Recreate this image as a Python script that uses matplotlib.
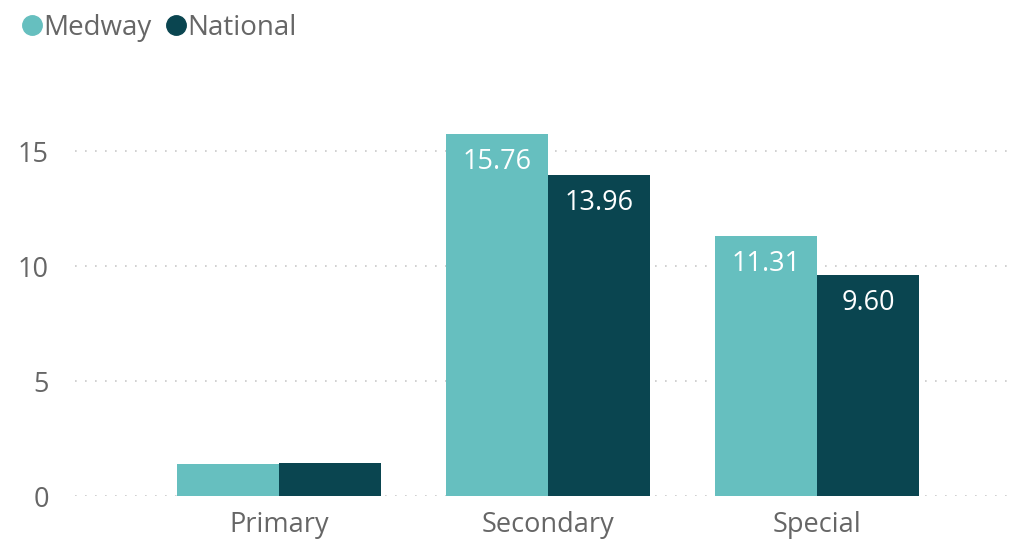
import matplotlib
matplotlib.use('Agg')
from matplotlib import pyplot as plt
from matplotlib.lines import Line2D
import numpy as np

categories = ['Primary', 'Secondary', 'Special']
medway = [1.38, 15.76, 11.31]
national = [1.45, 13.96, 9.60]
medway_labels = ['', '15.76', '11.31']
national_labels = ['', '13.96', '9.60']

c_medway = '#66bfbf'
c_national = '#0a4550'
grey = '#666666'

plt.rcParams['font.family'] = ['Open Sans', 'DejaVu Sans']

fig = plt.figure(figsize=(10.28, 5.58), dpi=100)
ax = fig.add_axes([0.073, 0.111, 0.9095, 0.70])

x = np.arange(len(categories))
w = 0.38
b1 = ax.bar(x - w / 2, medway, w, color=c_medway, zorder=3)
b2 = ax.bar(x + w / 2, national, w, color=c_national, zorder=3)

for bars, labels in ((b1, medway_labels), (b2, national_labels)):
    for bar, lab in zip(bars, labels):
        if lab:
            ax.text(bar.get_x() + bar.get_width() / 2, bar.get_height() - 0.6, lab,
                    ha='center', va='top', color='white', fontsize=19.5)

ax.set_xlim(-0.758, 2.717)
ax.set_ylim(0, 17)
ax.set_yticks([0, 5, 10, 15])
ax.set_xticks(x)
ax.set_xticklabels(categories)
ax.tick_params(axis='both', length=0, labelsize=19.5, colors=grey, pad=11)
ax.tick_params(axis='y', pad=19)
for lab in ax.get_yticklabels():
    lab.set_horizontalalignment('right')
ax.grid(axis='y', color='#c8c8c8', linestyle=(0, (1, 5)), linewidth=1.2, zorder=0)
ax.grid(axis='x', visible=False)
for s in ax.spines.values():
    s.set_visible(False)

handles = [Line2D([], [], marker='o', linestyle='', markersize=14, color=c_medway),
           Line2D([], [], marker='o', linestyle='', markersize=14, color=c_national)]
fig.legend(handles, ['Medway', 'National'], loc='upper left', bbox_to_anchor=(-0.007, 1.02),
           ncol=2, frameon=False, fontsize=20, handletextpad=-0.1, columnspacing=0.4,
           labelcolor=grey, handlelength=1.0)

fig.savefig('out.png', dpi=100)
